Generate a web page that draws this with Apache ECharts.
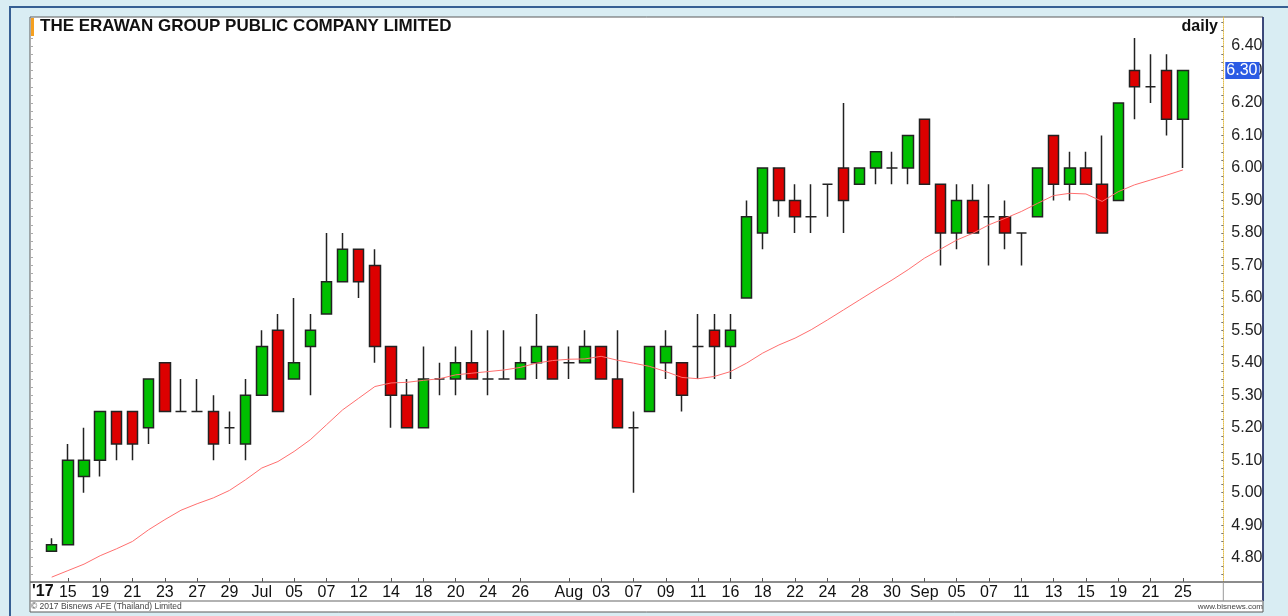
<!DOCTYPE html>
<html>
<head>
<meta charset="utf-8">
<title>THE ERAWAN GROUP PUBLIC COMPANY LIMITED</title>
<script src="https://cdn.jsdelivr.net/npm/echarts@6/dist/echarts.min.js"></script>
<style>
  html, body { margin: 0; padding: 0; background: #d9edf3; }
  #chart { width: 1288px; height: 616px; }
</style>
</head>
<body>
<div id="chart"></div>
<script>
// trading days, 2017 (Jun 14 .. Sep 25)
const dates = [
  '06-14', '06-15', '06-16', '06-19', '06-20', '06-21', '06-22', '06-23', '06-26', '06-27', '06-28', '06-29', '06-30',
  '07-03', '07-04', '07-05', '07-06', '07-07', '07-11', '07-12', '07-13', '07-14', '07-17', '07-18', '07-19', '07-20',
  '07-21', '07-24', '07-25', '07-26', '07-27', '07-31',
  '08-01', '08-02', '08-03', '08-04', '08-07', '08-08', '08-09', '08-10', '08-11', '08-15', '08-16', '08-17', '08-18',
  '08-21', '08-22', '08-23', '08-24', '08-25', '08-28', '08-29', '08-30', '08-31',
  '09-01', '09-04', '09-05', '09-06', '09-07', '09-08', '09-11', '09-12', '09-13', '09-14', '09-15', '09-18', '09-19',
  '09-20', '09-21', '09-22', '09-25'
];
const tickLabels = [
  '', '15', '', '19', '', '21', '', '23', '', '27', '', '29', '', 'Jul', '', '05', '', '07', '', '12', '', '14', '', '18',
  '', '20', '', '24', '', '26', '', '',
  'Aug', '', '03', '', '07', '', '09', '', '11', '', '16', '', '18', '', '22', '', '24', '', '28', '', '30', '',
  'Sep', '', '05', '', '07', '', '11', '', '13', '', '15', '', '19', '', '21', '', '25'
];
const opens = [
  4.82, 4.84, 5.05, 5.10, 5.25, 5.25, 5.20, 5.40, 5.25, 5.25, 5.25, 5.20, 5.15,
  5.30, 5.50, 5.35, 5.45, 5.55, 5.65, 5.75, 5.70, 5.45, 5.30, 5.20, 5.35, 5.35,
  5.40, 5.35, 5.35, 5.35, 5.40, 5.45,
  5.40, 5.40, 5.45, 5.35, 5.20, 5.25, 5.40, 5.40, 5.45, 5.50, 5.45, 5.60, 5.80,
  6.00, 5.90, 5.85, 5.95, 6.00, 5.95, 6.00, 6.00, 6.00,
  6.15, 5.95, 5.80, 5.90, 5.85, 5.85, 5.80, 5.85, 6.10, 5.95, 6.00, 5.95, 5.90,
  6.30, 6.25, 6.30, 6.15
];
const closes = [
  4.84, 5.10, 5.10, 5.25, 5.15, 5.15, 5.35, 5.25, 5.25, 5.25, 5.15, 5.20, 5.30,
  5.45, 5.25, 5.40, 5.50, 5.65, 5.75, 5.65, 5.45, 5.30, 5.20, 5.35, 5.35, 5.40,
  5.35, 5.35, 5.35, 5.40, 5.45, 5.35,
  5.40, 5.45, 5.35, 5.20, 5.20, 5.45, 5.45, 5.30, 5.45, 5.45, 5.50, 5.85, 6.00,
  5.90, 5.85, 5.85, 5.95, 5.90, 6.00, 6.05, 6.00, 6.10,
  5.95, 5.80, 5.90, 5.80, 5.85, 5.80, 5.80, 6.00, 5.95, 6.00, 5.95, 5.80, 6.20,
  6.25, 6.25, 6.15, 6.30
];
const lows = [
  4.82, 4.84, 5.00, 5.05, 5.10, 5.10, 5.15, 5.25, 5.25, 5.25, 5.10, 5.15, 5.10,
  5.30, 5.25, 5.35, 5.30, 5.55, 5.65, 5.60, 5.40, 5.20, 5.20, 5.20, 5.30, 5.30,
  5.35, 5.30, 5.35, 5.35, 5.35, 5.35,
  5.35, 5.40, 5.35, 5.20, 5.00, 5.25, 5.35, 5.25, 5.35, 5.35, 5.35, 5.60, 5.75,
  5.85, 5.80, 5.80, 5.85, 5.80, 5.95, 5.95, 5.95, 5.95,
  5.95, 5.70, 5.75, 5.80, 5.70, 5.75, 5.70, 5.85, 5.90, 5.90, 5.95, 5.80, 5.90,
  6.15, 6.20, 6.10, 6.00
];
const highs = [
  4.86, 5.15, 5.20, 5.25, 5.25, 5.25, 5.35, 5.40, 5.35, 5.35, 5.30, 5.25, 5.35,
  5.50, 5.55, 5.60, 5.55, 5.80, 5.80, 5.75, 5.75, 5.45, 5.35, 5.45, 5.40, 5.45,
  5.50, 5.50, 5.50, 5.45, 5.55, 5.45,
  5.45, 5.50, 5.45, 5.50, 5.25, 5.45, 5.50, 5.40, 5.55, 5.55, 5.55, 5.90, 6.00,
  6.00, 5.95, 5.95, 5.95, 6.20, 6.00, 6.05, 6.05, 6.10,
  6.15, 5.95, 5.95, 5.95, 5.95, 5.90, 5.80, 6.00, 6.10, 6.05, 6.05, 6.10, 6.20,
  6.40, 6.35, 6.35, 6.30
];
// moving average (thin red line)
const ma = [
  4.740, 4.760, 4.780, 4.806, 4.827, 4.850, 4.886, 4.917, 4.946, 4.966, 4.984, 5.007, 5.040,
  5.076, 5.096, 5.127, 5.163, 5.209, 5.255, 5.291, 5.327, 5.338, 5.340, 5.346, 5.351, 5.363,
  5.368, 5.373, 5.378, 5.386, 5.399, 5.407,
  5.411, 5.412, 5.420, 5.408, 5.399, 5.389, 5.373, 5.355, 5.351, 5.358, 5.373, 5.399, 5.430,
  5.455, 5.476, 5.502, 5.532, 5.563, 5.594, 5.625, 5.655, 5.687,
  5.722, 5.750, 5.778, 5.799, 5.825, 5.845, 5.866, 5.891, 5.915, 5.922, 5.920, 5.897, 5.927,
  5.948, 5.963, 5.978, 5.994
];

const FONT = '"Liberation Sans", Arial, sans-serif';
const W = 1288, H = 616;
const plotLeft = 31, plotRight = 1223.3, plotTop = 17, plotBottom = 582;
const padSlots = 2; // empty slots after the last session

const candles = dates.map((d, i) => [opens[i], closes[i], lows[i], highs[i]]);
const lastClose = closes[closes.length - 1];
const slotW = 16.16;
const gridLeft = plotRight - (dates.length + padSlots) * slotW;

const chart = echarts.init(document.getElementById('chart'));

const yCommon = {
  type: 'value',
  min: 4.725,
  max: 6.465,
  interval: 0.025,
  splitLine: { show: false },
  scale: true
};

const option = {
  animation: false,
  backgroundColor: '#d9edf3',
  title: [
    {
      text: 'THE ERAWAN GROUP PUBLIC COMPANY LIMITED',
      left: 40, top: 18, padding: 0,
      textStyle: { fontFamily: FONT, fontSize: 17, fontWeight: 'bold', color: '#111' }
    },
    {
      text: 'daily',
      right: W - 1218, top: 19, padding: 0,
      textStyle: { fontFamily: FONT, fontSize: 16, fontWeight: 'bold', color: '#111' }
    },
    {
      text: '\u00a9 2017 Bisnews AFE (Thailand) Limited',
      left: 31, top: 602, padding: 0,
      textStyle: { fontFamily: FONT, fontSize: 8.5, fontWeight: 'normal', color: '#444' }
    },
    {
      text: 'www.bisnews.com',
      right: W - 1263, top: 603, padding: 0,
      textStyle: { fontFamily: FONT, fontSize: 8, fontWeight: 'normal', color: '#444' }
    }
  ],
  grid: {
    left: gridLeft,
    right: W - plotRight,
    top: plotTop,
    bottom: H - plotBottom,
    show: false
  },
  xAxis: {
    type: 'category',
    data: dates.concat(new Array(padSlots).fill('')),
    boundaryGap: true,
    axisLine: { show: false },
    axisTick: {
      show: true, inside: true, length: 4, alignWithLabel: true,
      interval: (i) => !!tickLabels[i],
      lineStyle: { color: '#555' }
    },
    axisLabel: {
      interval: (i) => !!tickLabels[i],
      formatter: (v, i) => tickLabels[i] || '',
      margin: 3,
      fontFamily: FONT, fontSize: 16, color: '#111'
    },
    splitLine: { show: false }
  },
  yAxis: [
    Object.assign({}, yCommon, {
      position: 'right',
      axisLine: { show: true, lineStyle: { color: '#e2bd4a', type: 'dotted', width: 1 } },
      axisTick: { show: true, inside: true, length: 2, lineStyle: { color: '#777' } },
      axisLabel: {
        margin: 8,
        fontFamily: FONT, fontSize: 16, color: '#222',
        showMinLabel: false, showMaxLabel: false,
        formatter: (v) => {
          if (Math.abs(v * 10 - Math.round(v * 10)) > 1e-4) return '';
          const s = (Math.round(v * 10) / 10).toFixed(2);
          return Math.abs(v - 6.4) < 1e-4 ? '{top|' + s + '}' : s;
        },
        rich: { top: { padding: [14, 0, 0, 0], fontFamily: FONT, fontSize: 16, color: '#222' } }
      }
    }),
    Object.assign({}, yCommon, {
      position: 'left',
      offset: gridLeft - plotLeft,
      axisLine: { show: false },
      axisTick: { show: true, inside: true, length: 2, lineStyle: { color: '#aaa' } },
      axisLabel: { show: false }
    })
  ],
  graphic: [
    { type: 'rect', z: -10, shape: { x: 10, y: 7, width: 1300, height: 700 },
      style: { fill: '#d9edf3', stroke: '#365f93', lineWidth: 2 } },
    { type: 'rect', z: -9, shape: { x: 30, y: 17, width: 1233, height: 595 },
      style: { fill: '#ffffff', stroke: '#5a5a5a', lineWidth: 1 } },
    { type: 'line', z: -8, shape: { x1: 1263, y1: 17, x2: 1263, y2: 601 },
      style: { stroke: '#1b2a6b', lineWidth: 1.5 } },
    { type: 'line', z: 5, shape: { x1: 30, y1: plotBottom, x2: 1263, y2: plotBottom },
      style: { stroke: '#666', lineWidth: 1.5 } },
    { type: 'line', z: 5, shape: { x1: 30, y1: 601, x2: 1263, y2: 601 },
      style: { stroke: '#999', lineWidth: 1.5 } },
    { type: 'line', z: 5, shape: { x1: plotRight, y1: plotBottom, x2: plotRight, y2: 601 },
      style: { stroke: '#999', lineWidth: 1 } },
    { type: 'rect', z: 5, shape: { x: 31, y: 18, width: 3, height: 18 },
      style: { fill: '#f5a020' } },
    { type: 'text', z: 5, x: 32, y: 592,
      style: { text: "'17", fontFamily: FONT, fontSize: 16, fontWeight: 'bold', fill: '#111',
               verticalAlign: 'middle', align: 'left' } }
  ],
  series: [
    {
      name: 'price',
      type: 'candlestick',
      data: candles,
      barWidth: 11,
      itemStyle: {
        color: '#00bf00',
        color0: '#dd0000',
        borderColor: '#222',
        borderColor0: '#222',
        borderColorDoji: '#222',
        borderWidth: 1.5
      },
      markLine: {
        silent: true,
        symbol: ['none', 'none'],
        lineStyle: { color: 'rgba(0,0,0,0)', width: 0 },
        label: {
          show: true,
          position: 'end',
          distance: 2,
          formatter: lastClose.toFixed(2),
          backgroundColor: '#2b5be4',
          color: '#fff',
          fontFamily: FONT,
          fontSize: 16,
          padding: [1, 2, 0, 1]
        },
        data: [{ yAxis: lastClose }]
      }
    },
    {
      name: 'MA',
      type: 'line',
      data: ma,
      showSymbol: false,
      symbol: 'none',
      lineStyle: { color: '#ff6f6f', width: 1 },
      z: 3
    }
  ]
};

chart.setOption(option);
</script>
</body>
</html>
